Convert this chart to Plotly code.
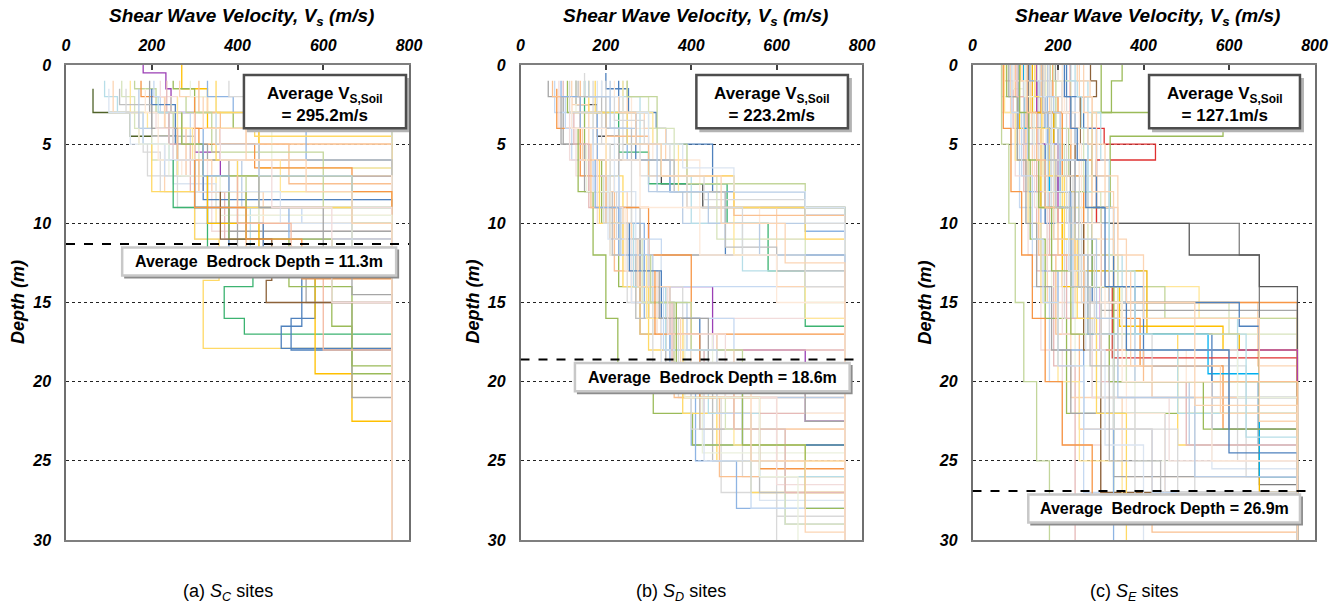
import plotly.graph_objects as go

# ---------------- data ----------------
# each profile: depth boundaries (top ... bedrock depth) and layer Vs (m/s)
SC_DEPTH = [
    [0, 1.5, 4, 6.5], [0, 0.5, 1.5, 3, 5.5, 7], [1.5, 3, 4.5, 7], [1, 2, 3, 5, 6],
    [1, 3, 5, 8, 9.5], [1, 2, 4, 6, 8], [1, 3, 4, 7, 10], [1, 1.5, 3, 5, 7, 9],
    [1, 2, 4, 5], [1, 3, 5, 6], [1, 2, 3, 6, 8.5], [1, 2, 4, 7, 10.5],
    [1, 3, 5, 8, 11], [1, 1.5, 3, 4], [1, 2, 3, 5], [1, 2, 4, 6.5],
    [1, 3, 5, 7.5], [1, 2, 3, 4, 6], [1, 3, 4.5], [1, 2, 4],
    [1.5, 3, 5, 7.5, 9], [1.5, 2.5, 4.5, 6], [1.5, 3, 5.5, 8, 10], [1.5, 4, 6, 9],
    [1.5, 3, 6, 7], [1.5, 2.5, 5, 8.5], [2, 3, 6, 9, 11.5], [2, 4, 7, 10],
    [2, 3, 5, 7, 12], [2, 4, 6, 8], [2, 3, 5.5, 9], [2, 4, 5, 6.5, 8],
    [2.5, 4, 6, 10.5], [3, 5, 7, 9, 10], [3, 4, 6, 9], [3, 5, 8, 11],
    [3, 5, 7, 10], [3, 6, 8, 11.5], [4, 5, 7, 9.5], [4, 6, 8, 12],
    [4, 7, 9, 11], [4, 6, 9, 12.5], [5, 7, 9, 11], [5, 6, 8, 10],
    [5, 8, 11, 13.6, 17.9], [6, 9, 12, 14, 16, 17], [6, 9, 12, 16.5, 17.9], [7, 10, 13, 16, 18],
    [7, 10, 12, 19.5, 22.5], [8, 11, 16.5, 19.5], [9, 12, 15, 21], [8, 11, 14, 19],
    [7, 10, 13, 18], [8, 11, 13.6, 15], [6, 9, 11, 13.5], [5, 9, 12, 14.5],
    [3, 5, 7, 12.5], [4, 6, 9, 15], [2, 4, 6, 8, 10],
]
SC_VS = [
    [270, 330, 450], [180, 233, 245, 300, 360], [63, 150, 260], [90, 120, 180, 240],
    [110, 170, 230, 380], [130, 160, 200, 300], [150, 190, 260, 350], [160, 210, 250, 300, 420],
    [175, 230, 310], [195, 240, 330], [205, 220, 290, 400], [220, 260, 280, 340],
    [235, 270, 320, 370], [250, 300, 390], [265, 330, 420], [290, 350, 480],
    [310, 360, 520], [330, 390, 420, 560], [350, 440], [380, 480],
    [100, 150, 250, 350], [125, 200, 300], [140, 180, 220, 300], [170, 250, 410],
    [185, 215, 270], [200, 255, 320], [215, 240, 300, 430], [230, 280, 360],
    [245, 270, 310, 450], [260, 295, 500], [280, 340, 600], [300, 360, 440, 667],
    [200, 260, 380], [180, 230, 300, 550], [210, 250, 330], [240, 290, 380],
    [270, 320, 667], [300, 340, 460], [170, 240, 360], [260, 310, 420],
    [320, 380, 520], [350, 400, 667], [190, 260, 300], [230, 300, 500],
    [200, 300, 357, 320], [250, 330, 436, 369, 416], [300, 380, 550, 502], [330, 460, 581, 525],
    [330, 450, 581, 667], [380, 620, 667], [400, 560, 667], [420, 520, 667],
    [400, 525, 600], [360, 480, 467], [300, 420, 550], [450, 600, 667],
    [350, 450, 667], [360, 480, 620], [320, 420, 560, 667],
]

SD_DEPTH = [
    [0.5, 1.5, 3, 4, 5, 8, 9.5], [1, 2.5, 4.5, 6, 7.5, 9], [10, 14, 18, 22.5], [1, 3, 5.5, 7.5, 10, 13, 16.5],
    [1, 2, 5, 6, 10, 12], [1, 3, 6, 8, 11, 14], [1, 4, 7, 10, 13, 16], [1, 2, 5, 9, 12, 15, 18],
    [1, 3, 6, 10, 14, 17, 20], [1, 2.5, 5, 8, 12, 16, 21], [1, 3, 5, 9, 13, 17, 22], [1, 4, 7, 11, 15, 19, 23],
    [1, 2, 6, 10, 14, 18, 24], [1, 3, 7, 12, 16, 21, 25], [1, 5, 9, 13, 17, 22, 26], [1, 3, 8, 12, 18, 24, 27.5],
    [1, 4, 9, 14, 19, 25, 29], [1, 2, 6, 11, 16, 21, 27, 30], [1, 3, 5, 8, 10], [1, 2, 4, 6, 9, 11],
    [1, 3, 6, 8, 12], [1, 2, 5, 7, 10, 13], [1, 3, 4, 6, 9, 14], [1, 2, 4, 7, 11, 15],
    [1, 3, 5, 8, 12, 16], [1, 2, 5, 7.5, 9], [1.5, 4, 7, 9, 12, 17], [2, 5, 8, 11, 15, 19],
    [2, 4, 7, 12, 16, 20], [3, 6, 9, 13, 17, 21], [3, 5, 8, 11, 15, 18, 22], [4, 8, 12, 16, 20, 22, 24],
    [4, 6, 10, 14, 18, 23], [5, 8, 12, 16, 20, 24.5], [5, 9, 13, 17, 21, 26], [6, 9, 12, 16, 20, 25, 28],
    [6, 10, 14, 18, 22, 27], [7, 10, 15, 19, 23, 28.5], [7, 11, 15, 20, 25, 29], [8, 12, 16, 20, 23, 27],
    [8, 11, 14, 17, 19], [9, 12, 15, 18, 21], [9, 13, 17, 20, 22], [10, 13, 16, 19, 24],
    [10, 14, 18, 22, 26], [11, 14, 17, 21, 25], [11, 15, 19, 23, 29], [12, 16, 20, 24, 27],
    [12, 15, 18, 20], [13, 17, 21, 25.5], [13, 16, 19, 22.5], [14, 18, 22, 28],
    [14, 17, 21, 26.5], [15, 19, 23, 27], [15, 20, 24, 28], [16, 20, 25, 29.5],
    [17, 21, 26, 30], [1, 2, 3, 4.5, 7, 9.5], [1, 2, 4, 6, 8, 10.5], [1, 3, 5, 7, 9, 11],
    [0.5, 2, 3.5, 5, 7, 8.5, 10], [1, 2, 3, 5, 6.5, 8, 9], [1, 2, 4, 6, 8, 11.5, 13], [1, 3, 5, 7, 9, 12, 14],
    [1, 2, 4, 5, 8, 10, 12], [2, 4, 6, 9, 12, 15], [2, 3, 5, 7, 10, 12.5],
]
SD_VS = [
    [200, 253, 318, 340, 450, 667], [130, 180, 230, 330, 427], [300, 450, 667], [150, 230, 300, 484, 580, 667],
    [65, 100, 150, 200, 280], [80, 120, 170, 230, 330], [90, 130, 180, 220, 300], [100, 140, 160, 210, 280, 360],
    [110, 150, 190, 230, 280, 400], [120, 160, 200, 250, 300, 380], [130, 170, 210, 260, 310, 450], [140, 180, 220, 270, 330, 420],
    [150, 180, 230, 290, 350, 400], [160, 200, 240, 300, 380, 460], [170, 210, 260, 320, 400, 520], [180, 220, 270, 330, 430, 560],
    [190, 230, 280, 340, 450, 620], [200, 240, 260, 300, 370, 470, 600], [210, 250, 300, 380], [220, 260, 310, 420, 560],
    [230, 270, 350, 480], [240, 280, 330, 400, 520], [250, 290, 340, 390, 600], [250, 300, 360, 460, 667],
    [240, 310, 370, 500, 667], [250, 320, 390, 667], [85, 140, 200, 300, 400], [95, 150, 210, 280, 360],
    [105, 170, 230, 300, 500], [115, 180, 240, 320, 460], [125, 160, 210, 260, 330, 430], [135, 170, 200, 228, 311, 403],
    [145, 200, 260, 340, 500], [155, 210, 270, 330, 426], [165, 220, 280, 360, 466], [175, 230, 290, 350, 410, 506],
    [185, 240, 300, 380, 540], [195, 250, 310, 400, 600], [205, 260, 330, 430, 619], [215, 270, 340, 420, 560],
    [225, 300, 380, 460], [235, 310, 390, 480], [245, 320, 400, 667], [255, 330, 420, 520],
    [265, 340, 440, 560], [275, 350, 460, 600], [285, 360, 480, 620], [295, 380, 500, 667],
    [305, 400, 520], [315, 420, 560], [325, 440, 667], [335, 460, 540],
    [345, 480, 600], [355, 500, 620], [365, 520, 667], [375, 540, 667],
    [385, 560, 650], [75, 120, 200, 300, 500], [95, 140, 250, 350, 667], [175, 250, 330, 500, 667],
    [150, 220, 290, 350, 430, 667], [190, 240, 300, 380, 500, 667], [135, 200, 260, 360, 480, 600], [115, 190, 280, 390, 520, 667],
    [160, 210, 270, 320, 440, 560], [120, 200, 280, 420, 600], [230, 270, 330, 470, 620],
]

SE_DEPTH = [
    [0, 2, 5, 9, 14, 20, 27], [0, 3, 7, 12, 18, 24, 29], [0, 1, 4, 8, 13, 19, 30], [0, 2, 6, 11, 16, 22, 28],
    [0, 3, 5, 10, 15, 21, 26], [0, 1.5, 4, 9, 14, 19, 25], [0, 2, 7, 12, 17, 23, 29.5], [0, 4, 8, 13, 18, 22, 27.5],
    [0, 1, 3, 7, 12, 17, 24], [0, 2, 5, 10, 16, 21, 28.5], [0, 3, 6, 11, 15, 20, 25.5], [0, 1, 4, 9, 13, 18, 23],
    [0, 2, 6, 10, 14, 19, 26], [0, 3, 7, 11, 16, 20, 24], [0, 1, 5, 9, 14, 18, 22], [0, 2, 4, 8, 14, 17, 21],
    [0, 3, 6, 9, 13, 16, 20], [0, 1, 3, 7, 11, 15, 19], [0, 2, 5, 8, 12, 15, 17], [0, 3, 6, 9, 11, 14, 16],
    [0, 1, 4, 7, 10, 14, 16], [0, 2, 3, 6, 9, 12, 15], [0, 1, 3, 5, 7, 9, 15.5], [0, 4, 5, 6, 10, 14, 18.5],
    [0, 3, 6, 10, 12, 26.5], [0, 4, 8, 10, 12, 14], [0, 5, 10, 15, 16.5, 26], [0, 4, 9, 14, 16.5, 18],
    [0, 3, 8, 13, 17, 18, 27], [0, 5, 10, 14, 18], [0, 3, 7, 12, 16, 19, 23], [0, 4, 9, 14, 17, 19.5, 26],
    [0, 3, 4.5, 9, 14, 22], [0, 1, 2, 5, 10, 18, 27], [0, 1, 3, 8, 14, 20], [0, 2, 6, 12, 17, 21, 25],
    [0, 1, 5, 10, 15, 20, 24], [0, 3, 7, 11, 16, 22, 28], [0, 2, 4, 9, 14, 19, 23], [0, 1, 3, 6, 12, 18, 22],
    [0, 2, 5, 9, 13, 19, 21], [0, 1, 4, 8, 12, 17, 20], [0, 3, 6, 10, 15, 20, 25, 29], [0, 5, 10, 15, 20, 25, 30],
    [0, 4, 8, 12, 16, 20, 24, 28], [0, 2, 6, 10, 14, 18, 22, 26], [0, 3, 7, 11, 15, 19, 23, 27], [0, 1, 5, 9, 13, 17, 21, 25],
    [0, 2, 4, 8, 12, 16, 20, 24], [0, 3, 6, 9, 13, 17, 20, 23], [0, 1, 4, 7, 11, 15, 19, 22], [0, 2, 5, 8, 10, 14, 18, 21],
    [0, 3, 6, 9, 12, 15, 18, 20], [0, 1, 2, 5, 8, 12, 17, 30], [0, 2, 4, 7, 11, 16, 22, 30], [0, 1, 3, 6, 10, 15, 21, 29],
    [0, 2, 5, 8, 13, 18, 24, 30], [0, 3, 6, 9, 14, 19, 25, 28.5], [0, 1, 4, 7, 12, 17, 23, 27], [0, 2, 3, 6, 11, 16, 21, 26],
    [0, 1, 3, 5, 10, 15, 20, 25], [0, 2, 4, 6, 9, 14, 18, 24.5], [0, 1, 2, 4, 8, 13, 17, 23.5], [0, 1, 3, 5, 8, 12, 16, 22.5],
    [0, 1, 2, 3, 7, 11, 15, 21.5],
]
SE_VS = [
    [68, 90, 110, 140, 180, 260], [68, 100, 130, 160, 210, 300], [75, 95, 120, 150, 190, 240], [80, 105, 135, 170, 220, 330],
    [89, 110, 140, 175, 230, 350], [95, 120, 150, 185, 240, 380], [100, 125, 155, 195, 250, 420], [107, 130, 160, 200, 260, 450],
    [112, 135, 165, 210, 270, 480], [119, 140, 170, 215, 280, 520], [125, 145, 175, 220, 290, 560], [130, 150, 180, 225, 300, 600],
    [135, 155, 185, 230, 320, 640], [140, 160, 190, 235, 340, 667], [145, 165, 195, 240, 360, 500], [150, 170, 200, 250, 380, 560],
    [159, 175, 205, 255, 400, 620], [165, 180, 210, 260, 330, 667], [170, 185, 215, 270, 340, 600], [175, 190, 220, 280, 300, 530],
    [182, 195, 225, 290, 330, 450], [188, 200, 230, 280, 300, 320], [194, 210, 240, 280, 320, 300], [229, 308, 428, 290, 300, 327],
    [150, 190, 229, 624, 671], [130, 180, 229, 507, 671], [120, 170, 280, 624, 671], [110, 160, 210, 344, 586],
    [140, 190, 240, 408, 624, 671], [150, 200, 250, 299], [160, 210, 260, 330, 392, 586], [120, 180, 230, 300, 551, 671],
    [301, 586, 322, 280, 330], [276, 290, 252, 240, 260, 300], [350, 325, 280, 250, 330], [180, 220, 250, 300, 420, 620],
    [200, 240, 270, 320, 380, 507], [210, 250, 280, 310, 360, 450], [220, 260, 290, 330, 400, 560], [240, 270, 300, 320, 350, 480],
    [250, 280, 310, 340, 370, 420], [190, 230, 260, 300, 340, 360], [75, 100, 130, 160, 200, 250, 350], [68, 85, 100, 120, 150, 180],
    [72, 90, 115, 140, 170, 210, 280], [85, 105, 125, 150, 185, 230, 330], [92, 115, 140, 165, 200, 260, 420], [98, 120, 145, 175, 210, 280, 460],
    [104, 128, 150, 180, 220, 300, 500], [110, 132, 155, 185, 230, 320, 540], [116, 138, 160, 190, 240, 340, 580], [122, 144, 165, 195, 250, 350, 620],
    [128, 150, 170, 200, 260, 300, 400], [134, 156, 175, 205, 230, 270, 330], [146, 162, 180, 215, 245, 290, 360], [152, 168, 185, 220, 255, 300, 380],
    [158, 172, 190, 225, 265, 310, 400], [164, 178, 195, 230, 275, 320, 440], [170, 184, 200, 235, 285, 330, 480], [176, 190, 205, 240, 290, 340, 520],
    [200, 215, 230, 255, 300, 350, 560], [215, 230, 245, 265, 310, 360, 600], [230, 245, 255, 270, 320, 380, 640], [245, 260, 270, 280, 330, 400, 671],
    [260, 275, 280, 290, 340, 360, 520],
]

AVG_VS = [295.2, 223.2, 127.1]
AVG_BEDROCK = [11.3, 18.6, 26.9]
SITE_CLASS = ["C", "D", "E"]
PANEL_TAG = ["a", "b", "c"]
X_TICKS = [0, 200, 400, 600, 800]
Y_TICKS = [0, 5, 10, 15, 20, 25, 30]
BEDROCK_VS = 760
MAX_DEPTH = 30

# ---------------- styles ----------------
PALETTE = ['#b9cde5', '#fcd5b4', '#d7e4bd', '#d9d9d9', '#c6d9f1', '#fde9d9', '#ebf1de', '#ffe699',
           '#dbe5f1', '#f2dcdb', '#4f81bd', '#fac090', '#c3d69b', '#bfbfbf', '#e6b9b8', '#b7dee8',
           '#8eb4e3', '#f79646', '#d9d9d9', '#9bbb59', '#fcd5b4', '#ffd966', '#a6a6a6']
OVERRIDES = [
    {0: '#ffc000', 1: '#9b3fb5', 2: '#4f6228', 44: '#ffd966', 45: '#3cb371', 46: '#4f81bd',
     47: '#4f81bd', 48: '#ffc000', 49: '#9bbb59', 50: '#a6a6a6', 51: '#9bbb59', 52: '#f4b9a0',
     53: '#8c6239', 58: '#fbd5b5'},
    {0: '#4f81bd', 1: '#4d4d4d', 2: '#9b3fb5', 3: '#3cb371', 66: '#fbd5b5'},
    {23: '#e03030', 24: '#7f7f7f', 25: '#595959', 26: '#4f81bd', 27: '#ffc000', 28: '#f0b400',
     29: '#b040b0', 30: '#f79646', 31: '#00b0f0', 32: '#9bbb59', 33: '#8c6239', 34: '#9bbb59',
     64: '#fbd5b5'},
]
W, H = 1342, 607
X_PIX = [(66, 409), (520.5, 862), (972.5, 1314.5)]
Y_PIX = (65, 540)
TOPBOX_X = [(415, 793), (412, 767), (413, 766)]
BOTBOX_X = [(131, 770), (127.5, 771), (130.5, 766)]
FONT = "Liberation Sans, Arial, sans-serif"

DATA = [(SC_DEPTH, SC_VS), (SD_DEPTH, SD_VS), (SE_DEPTH, SE_VS)]


def profile_xy(depths, vs):
    xs, ys = [], []
    for i, v in enumerate(vs):
        xs += [v, v]
        ys += [depths[i], depths[i + 1]]
    if depths[-1] < MAX_DEPTH:
        xs += [BEDROCK_VS, BEDROCK_VS]
        ys += [depths[-1], MAX_DEPTH]
    return xs, ys


fig = go.Figure()
shapes, annotations = [], []
px_x = 800 / 343.0      # m/s per pixel
px_y = 30 / 475.0       # m per pixel

for k, (depths_list, vs_list) in enumerate(DATA):
    sfx = '' if k == 0 else str(k + 1)
    xa, ya = 'x' + sfx, 'y' + sfx
    for i, (d, v) in enumerate(zip(depths_list, vs_list)):
        xs, ys = profile_xy(d, v)
        color = OVERRIDES[k].get(i, PALETTE[(i * 5 + k * 2) % len(PALETTE)])
        fig.add_trace(go.Scatter(x=xs, y=ys, mode='lines', xaxis=xa, yaxis=ya,
                                 line=dict(color=color, width=1.3),
                                 hoverinfo='skip', showlegend=False))

    x0p, x1p = X_PIX[k]
    tick_font = dict(family=FONT, size=16, color='black', weight='bold', style='italic')
    fig.layout['xaxis' + sfx] = dict(
        domain=[x0p / W, x1p / W], range=[0, 800], side='top', anchor=ya,
        tickvals=X_TICKS, ticks='inside', ticklen=5, tickcolor='#404040', tickwidth=1.5,
        showgrid=False, zeroline=False, showline=True, linecolor='#7f7f7f', linewidth=1.5,
        mirror=True, tickfont=tick_font, ticklabelstandoff=6, automargin=False)
    fig.layout['yaxis' + sfx] = dict(
        domain=[1 - Y_PIX[1] / H, 1 - Y_PIX[0] / H], range=[MAX_DEPTH, 0], anchor=xa,
        tickvals=Y_TICKS, ticks='', showgrid=True, gridcolor='#222222', griddash='dot',
        gridwidth=1, zeroline=False, showline=True, linecolor='#6f6f6f', linewidth=1.5,
        mirror=True, tickfont=tick_font, ticklabelstandoff=10, automargin=False)

    # bedrock dashed line
    br = AVG_BEDROCK[k]
    shapes.append(dict(type='line', xref=xa, yref=ya, x0=0, x1=800, y0=br, y1=br,
                       line=dict(color='black', width=2, dash='dash'), layer='above'))

    # top box
    bx0, bx1 = TOPBOX_X[k]
    by0, by1 = 0.63, 4.0
    shapes.append(dict(type='rect', xref=xa, yref=ya, x0=bx0 + 3 * px_x, x1=bx1 + 4 * px_x,
                       y0=by0 + 3 * px_y, y1=by1 + 4 * px_y, fillcolor='#b3b3b3',
                       line=dict(width=0), layer='above'))
    shapes.append(dict(type='rect', xref=xa, yref=ya, x0=bx0, x1=bx1, y0=by0, y1=by1,
                       fillcolor='white', line=dict(color='#4d4d4d', width=2.5), layer='above'))
    annotations.append(dict(
        xref=xa, yref=ya, x=(bx0 + bx1) / 2, y=(by0 + by1) / 2 + 0.2, showarrow=False,
        text=f"<b>Average V<sub>S,Soil</sub></b><br><b>= {AVG_VS[k]:.1f}m/s</b>",
        font=dict(family=FONT, size=17, color='black'), align='center'))

    # bottom box
    cx0, cx1 = BOTBOX_X[k]
    cy0, cy1 = br + 0.22, br + 2.0
    shapes.append(dict(type='rect', xref=xa, yref=ya, x0=cx0 + 2 * px_x, x1=cx1 + 3 * px_x,
                       y0=cy0 + 2 * px_y, y1=cy1 + 3 * px_y, fillcolor='#8c8c8c',
                       line=dict(width=0), layer='above'))
    shapes.append(dict(type='rect', xref=xa, yref=ya, x0=cx0, x1=cx1, y0=cy0, y1=cy1,
                       fillcolor='white', line=dict(color='#c8c8c8', width=2.5), layer='above'))
    annotations.append(dict(
        xref=xa, yref=ya, x=(cx0 + cx1) / 2, y=(cy0 + cy1) / 2, showarrow=False,
        text=f"<b>Average \u00a0Bedrock Depth = {br:.1f}m</b>",
        font=dict(family=FONT, size=16, color='black')))

    # axis titles
    annotations.append(dict(
        xref='paper', yref='paper', x=((x0p + x1p) / 2 + 4) / W, y=1 - 17 / H,
        xanchor='center', yanchor='middle', showarrow=False,
        text="<b><i>Shear Wave Velocity, V<sub>s</sub> (m/s)</i></b>",
        font=dict(family=FONT, size=19, color='black')))
    annotations.append(dict(
        xref='paper', yref='paper', x=(x0p - 48) / W, y=1 - 302 / H,
        xanchor='center', yanchor='middle', showarrow=False, textangle=-90,
        text="<b><i>Depth (m)</i></b>",
        font=dict(family=FONT, size=18, color='black')))
    # caption
    annotations.append(dict(
        xref='paper', yref='paper', x=((x0p + x1p) / 2 - 10) / W, y=1 - 592 / H,
        xanchor='center', yanchor='middle', showarrow=False,
        text=f"({PANEL_TAG[k]}) <i>S<sub>{SITE_CLASS[k]}</sub></i> sites",
        font=dict(family=FONT, size=18, color='black')))

fig.update_layout(
    width=W, height=H, margin=dict(l=0, r=0, t=0, b=0, autoexpand=False),
    paper_bgcolor='white', plot_bgcolor='white', showlegend=False,
    shapes=shapes, annotations=annotations)

fig.write_html("out.html", config={'displayModeBar': False},
               post_script="document.body.style.margin='0';document.body.style.overflow='hidden';")
